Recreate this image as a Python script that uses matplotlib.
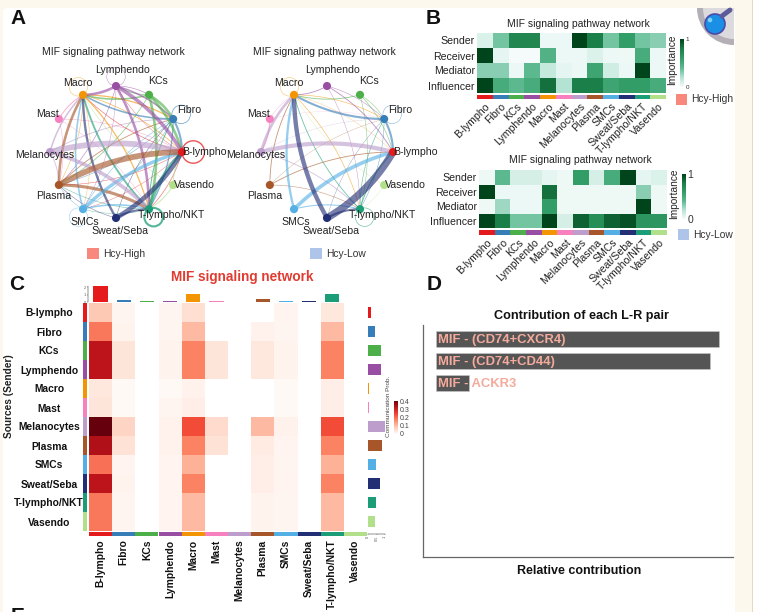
import numpy as np
import matplotlib
matplotlib.use("Agg")
import matplotlib.pyplot as plt
from matplotlib.patches import FancyBboxPatch, Rectangle, Circle, Wedge
from matplotlib.colors import LinearSegmentedColormap

W, H = 757, 612
plt.rcParams['font.family'] = ['Liberation Sans', 'DejaVu Sans']

# ---------- data ----------
cells = ['B-lympho', 'Fibro', 'KCs', 'Lymphendo', 'Macro', 'Mast', 'Melanocytes',
         'Plasma', 'SMCs', 'Sweat/Seba', 'T-lympho/NKT', 'Vasendo']
cell_colors = ['#E41A1C', '#377EB8', '#4DAF4A', '#984EA3', '#F29403', '#F781BF',
               '#BC9DCC', '#A65628', '#54B0E4', '#222F75', '#1B9E77', '#B2DF8A']
roles = ['Sender', 'Receiver', 'Mediator', 'Influencer']

role_high = [[.08, .35, .75, .75, .03, .03, 1.0, .80, .35, .60, .35, .30],
             [1.0, .05, .00, .00, .45, .03, .03, .08, .03, .02, .50, .03],
             [.30, .30, .03, .40, .15, .05, .03, .55, .12, .03, 1.0, .03],
             [1.0, .50, .40, .50, .85, .20, .80, .80, .55, .60, .60, .50]]
role_low = [[.02, .40, .10, .10, .05, .02, .60, .10, .50, 1.0, .05, .08],
            [1.0, .03, .03, .03, .85, .02, .02, .02, .02, .02, .30, .02],
            [.02, .25, .03, .03, .60, .02, .02, .02, .02, .02, 1.0, .02],
            [1.0, .80, .35, .35, 1.0, .10, .90, .70, .90, .95, .65, .65]]

comm_prob = [[.08, .008, 0, .008, .045, 0, 0, 0, .010, 0, .030, 0],
             [.18, .012, 0, .008, .100, 0, 0, .015, .008, 0, .100, 0],
             [.32, .035, 0, .012, .170, .035, 0, .030, .012, 0, .170, 0],
             [.32, .035, 0, .012, .170, .035, 0, .030, .012, 0, .170, 0],
             [.03, .005, 0, .005, .015, 0, 0, 0, .005, 0, .020, 0],
             [.035, .005, 0, .008, .020, 0, 0, 0, .005, 0, .020, 0],
             [.40, .060, 0, .015, .230, .050, 0, .100, .015, 0, .230, 0],
             [.33, .040, 0, .015, .170, .040, 0, .025, .010, 0, .170, 0],
             [.19, .010, 0, .010, .110, 0, 0, .020, .008, 0, .110, 0],
             [.32, .012, 0, .010, .170, 0, 0, .020, .010, 0, .170, 0],
             [.18, .008, 0, .010, .100, 0, 0, .012, .008, 0, .100, 0],
             [.18, .008, 0, .010, .100, 0, 0, .012, .008, 0, .100, 0]]
incoming = [2.2, .25, .10, .15, 1.15, .20, .05, .35, .12, .10, 1.10, .05]
outgoing = [.20, .42, .75, .75, .08, .06, 1.0, .80, .47, .70, .45, .42]

lr_pairs = ['MIF - (CD74+CXCR4)', 'MIF - (CD74+CD44)', 'MIF - ACKR3']
lr_values = [.460, .445, .054]

# network edges: sender index, receiver index, weight
src_high = [6, 7, 9, 8, 10, 3, 1, 2, 4, 11, 7, 9, 10, 8, 6, 3, 5, 1, 2,
            6, 7, 3, 2, 9, 8, 1, 4, 11, 2, 3, 4, 6, 7, 9, 8, 10,
            0, 0, 0, 4, 3, 6, 2, 5, 8, 10, 1, 9, 3, 4, 5, 11, 3, 2, 10, 0, 1, 5, 0]
tgt_high = [0, 0, 0, 0, 0, 0, 0, 0, 0, 0, 4, 4, 4, 4, 4, 4, 4, 4, 4,
            10, 10, 10, 10, 10, 10, 10, 10, 10, 1, 1, 1, 1, 1, 1, 1, 1,
            4, 10, 7, 7, 7, 7, 7, 7, 7, 7, 7, 7, 8, 8, 0, 4, 2, 3, 8, 8, 8, 10, 3]
wt_high = [5.5, 5.5, 4.5, 3.2, 3, 3.5, 2, 2.5, .7, 1, 2.5, 2.2, 1.8, 1.5, 1.5, 2.5, 1, 1.5, 1.5,
           3.5, 3, 2.5, 2.5, 2, 1.5, 1.2, 1.2, 1, 2.5, 1.5, 1.2, .8, .8, .5, .6, 1,
           .6, .6, .5, .5, .6, .8, .7, .5, .5, .5, .5, .5, .4, .4, .5, .5, .6, .8, .4, .4, .4, .4, .4]
src_low = [6, 9, 8, 7, 1, 10, 3, 2, 9, 8, 6, 7, 3, 5, 1, 2, 10, 6, 9, 8, 7, 4, 1, 11, 2,
           3, 2, 4, 6, 7, 5, 9, 4, 10, 3, 11, 5]
tgt_low = [0, 0, 0, 0, 0, 0, 0, 0, 4, 4, 4, 4, 4, 4, 4, 4, 1, 10, 10, 10, 10, 10, 10, 10, 10,
           1, 1, 1, 1, 1, 1, 1, 0, 4, 10, 4, 6]
wt_low = [4, 7, 3.5, .8, 2, 1, .8, .6, 4.2, 2.2, 2.5, .8, .8, .4, 2, .8, .6, .8, 2, 1, .5, .6, .5, .3, .5,
          .5, .5, .6, .3, .3, .2, .3, .3, .8, .4, .3, 1.2]
loops_high_idx, loops_high_wt = [0, 10, 3, 4, 1, 8], [1, 1.5, .3, .3, .5, .3]
loops_low_idx, loops_low_wt = [10, 1, 4], [.4, .3, .3]

# ---------- helpers ----------
fig = plt.figure(figsize=(W / 100, H / 100), dpi=100, facecolor='white')


def px_axes(x0, y0, x1, y1, **kw):
    return fig.add_axes([x0 / W, 1 - y1 / H, (x1 - x0) / W, (y1 - y0) / H], **kw)


bg = px_axes(0, 0, W, H, zorder=-5)
bg.set_xlim(0, W)
bg.set_ylim(H, 0)
bg.axis('off')
cream = '#fdf8ee'
bg.add_patch(Rectangle((0, 0), 752, H, fc=cream, ec='none'))
bg.add_patch(Rectangle((752, 0), 1, H, fc='#e8d6c6', ec='none'))
bg.add_patch(FancyBboxPatch((8, 13), 722, H, boxstyle='round,pad=5,rounding_size=5',
                            fc='white', ec='none'))

# icon
bg.add_patch(Wedge((734, 8), 37, 90, 180, fc='#b4afb6', ec='none'))
bg.add_patch(Wedge((734, 8), 31, 90, 180, fc='#dcdadd', ec='none'))
bg.plot([722, 730], [16, 10], color='#5c5a9a', lw=3.5, solid_capstyle='round')
bg.add_patch(Circle((715, 24), 10, fc='#1a8fe6', ec='#4b4aa8', lw=1.2))
bg.add_patch(Circle((710, 20), 2.3, fc='#7fd0f5', ec='none'))

# panel letters
for let, x, y in [('A', 18, 19), ('B', 433, 19), ('C', 17, 284), ('D', 434, 284), ('E', 18, 617)]:
    bg.text(x, y, let, fontsize=15, fontweight='bold', ha='center', va='center', color='#111111')

# ---------- A: networks ----------
label_offsets = [(22, 0), (16, -9), (9, -14), (6, -16), (-5, -12), (-11, -5),
                 (-5, 3), (-5, 11), (2, 13), (4, 13), (22, 6), (21, 0)]
R_PX = 66.0
BEND = np.linspace(0, 1, 40)


def network(cx, cy, src, tgt, wt, loop_idx, loop_wt):
    half = 112
    ax = px_axes(cx - half, cy - half, cx + half, cy + half, zorder=1)
    lim = half / R_PX
    ax.set_xlim(-lim, lim)
    ax.set_ylim(-lim, lim)
    ax.axis('off')
    ang = np.deg2rad(np.arange(len(cells)) * 30.0)
    xs, ys = np.cos(ang), np.sin(ang)
    for k in np.argsort(wt):
        s, t, w = src[k], tgt[k], wt[k]
        rad = 0.13 if (s, t) == (9, 0) else -0.13
        mx, my = (xs[s] + xs[t]) / 2, (ys[s] + ys[t]) / 2
        dx, dy = xs[t] - xs[s], ys[t] - ys[s]
        qx, qy = mx + rad * dy, my - rad * dx
        px = (1 - BEND) ** 2 * xs[s] + 2 * BEND * (1 - BEND) * qx + BEND ** 2 * xs[t]
        py = (1 - BEND) ** 2 * ys[s] + 2 * BEND * (1 - BEND) * qy + BEND ** 2 * ys[t]
        ax.plot(px, py, lw=w * 0.75, color=cell_colors[s], alpha=.62, zorder=2,
                solid_capstyle='butt')
    for i, w in zip(loop_idx, loop_wt):
        r = .14 if i != 0 else .17
        ax.add_patch(Circle((xs[i] * (1 + r), ys[i] * (1 + r)), r, fc='none',
                            ec=cell_colors[i], lw=w, alpha=.75, zorder=2))
    ax.scatter(xs, ys, s=34, c=cell_colors, zorder=4, lw=0)
    for i, name in enumerate(cells):
        ax.annotate(name, (xs[i], ys[i]), xytext=(label_offsets[i][0], -label_offsets[i][1]),
                    textcoords='offset pixels', ha='center', va='center', fontsize=7.6,
                    color='#222222', zorder=5)
    bg.text(cx - 3, 52, 'MIF signaling pathway network', fontsize=7.45, ha='center',
            va='center', color='#222222')


network(116, 152, src_high, tgt_high, wt_high, loops_high_idx, loops_high_wt)
network(327, 152, src_low, tgt_low, wt_low, loops_low_idx, loops_low_wt)
bg.add_patch(Rectangle((87, 248), 12, 11, fc='#f8877c', ec='none'))
bg.text(103, 254, 'Hcy-High', fontsize=7.4, va='center', color='#333333')
bg.add_patch(Rectangle((310, 248), 12, 11, fc='#aec4e8', ec='none'))
bg.text(326, 254, 'Hcy-Low', fontsize=7.4, va='center', color='#333333')

# ---------- B: role heatmaps ----------
greens = LinearSegmentedColormap.from_list(
    'imp', ['#f4fbfa', '#b5e3d3', '#5cb98f', '#339d68', '#1b7f49', '#00441b'])
reds = LinearSegmentedColormap.from_list(
    'comm', [(0, '#ffffff'), (.02, '#fff5f0'), (.2, '#fdc9b4'), (.4, '#fc8a6a'),
             (.6, '#f14432'), (.8, '#bc141a'), (1, '#67000d')])


def role_map(rect, strip_y, cb, title_xy, data, legend_xy, legend_col, legend_text, cb_font):
    x0, y0, x1, y1 = rect
    ax = px_axes(x0, y0, x1, y1)
    ax.pcolormesh(np.array(data), cmap=greens, vmin=0, vmax=1)
    ax.invert_yaxis()
    ax.set_xticks([])
    ax.set_yticks(np.arange(4) + .5, roles, fontsize=7.6, color='#222222')
    ax.tick_params(axis='y', length=0, pad=1.5)
    for sp in ax.spines.values():
        sp.set_visible(False)
    st = px_axes(x0, strip_y[0], x1, strip_y[1])
    st.bar(np.arange(12) + .5, 1, width=1, color=cell_colors)
    st.set_xlim(0, 12)
    st.set_ylim(0, 1)
    st.set_yticks([])
    st.set_xticks(np.arange(12) + .5, cells, rotation=45, ha='right', rotation_mode='anchor',
                  fontsize=7.6, color='#222222')
    st.tick_params(axis='x', length=0, pad=1.5)
    for sp in st.spines.values():
        sp.set_visible(False)
    cax = px_axes(*cb)
    cax.imshow(np.linspace(1, 0, 100)[:, None], aspect='auto', cmap=greens, vmin=0, vmax=1,
               extent=[0, 1, 0, 1])
    cax.set_xticks([])
    cax.yaxis.tick_right()
    cax.set_yticks([0, 1], ['0', '1'], fontsize=cb_font, color='#333333')
    cax.tick_params(axis='y', length=0, pad=1)
    for sp in cax.spines.values():
        sp.set_visible(False)
    bg.text((cb[0]) - 8, (cb[1] + cb[3]) / 2 - 3, 'Importance', rotation=90, fontsize=7.3,
            ha='center', va='center', color='#222222')
    bg.text(title_xy[0], title_xy[1], 'MIF signaling pathway network', fontsize=7.45,
            ha='center', va='center', color='#222222')
    bg.add_patch(Rectangle((legend_xy[0], legend_xy[1]), 11, 11, fc=legend_col, ec='none'))
    bg.text(legend_xy[0] + 15, legend_xy[1] + 5.5, legend_text, fontsize=7.4, va='center',
            color='#333333')


role_map((477, 33, 666, 93), (95, 99), (680, 39, 684, 87), (578, 24), role_high,
         (676, 94), '#f8877c', 'Hcy-High', 4.5)
role_map((479, 170, 667, 228), (230, 235), (682, 174, 686, 219), (580, 160), role_low,
         (678, 229), '#aec4e8', 'Hcy-Low', 7.5)

# ---------- C: communication heatmap ----------
hx0, hy0, hx1, hy1 = 89, 303, 367, 531
ax = px_axes(hx0, hy0, hx1, hy1)
ax.pcolormesh(np.array(comm_prob), cmap=reds, vmin=0, vmax=.4)
ax.invert_yaxis()
ax.set_xticks([])
ax.set_yticks(np.arange(12) + .5, cells, fontsize=7.4, fontweight='bold', ha='center', color='#111111')
ax.tick_params(axis='y', length=0, pad=28.8)
for sp in ax.spines.values():
    sp.set_visible(False)
bg.text(9, 396, 'Sources (Sender)', rotation=90, fontsize=7.3, fontweight='bold', ha='center',
        va='center', color='#222222')
bg.text(242, 277, 'MIF signaling network', fontsize=9.8, fontweight='bold', ha='center',
        va='center', color='#e03c31')

left = px_axes(83, hy0, 87, hy1)
left.bar(.5, 1, bottom=np.arange(12), width=1, color=cell_colors)
left.set_ylim(12, 0)
left.set_xlim(0, 1)
left.axis('off')

bot = px_axes(hx0, 532, hx1 + 0, 536)
bot.bar(np.arange(12) + .5, 1, width=1, color=cell_colors)
bot.set_xlim(0, 12)
bot.set_ylim(0, 1)
bot.set_yticks([])
bot.set_xticks(np.arange(12) + .5, cells, rotation=90, ha='center', va='top', fontsize=7.4,
               fontweight='bold', color='#111111')
bot.tick_params(axis='x', length=0, pad=2.5)
for sp in bot.spines.values():
    sp.set_visible(False)

top = px_axes(hx0, 286, hx1, 302)
for k in ['top', 'right', 'bottom']:
    top.spines[k].set_visible(False)
top.spines['left'].set_linewidth(.3)
top.spines['left'].set_position(('outward', 1))
top.bar(np.arange(12) + .5, incoming, width=.62, color=cell_colors)
top.set_xlim(0, 12)
top.set_ylim(0, 2.2)
top.set_xticks([])
top.set_yticks([0, 1, 2], ['0', '1', '2'], fontsize=2.8, color='#555555')
top.tick_params(axis='y', length=1, width=.3, pad=.5, color='#555555')

right = px_axes(368, hy0, 385, hy1)
for k in ['top', 'right', 'left']:
    right.spines[k].set_visible(False)
right.spines['bottom'].set_linewidth(.3)
right.spines['bottom'].set_position(('outward', 2))
right.barh(np.arange(12) + .5, outgoing, height=.62, color=cell_colors)
right.set_ylim(12, 0)
right.set_xlim(0, 1.0)
right.set_yticks([])
right.set_xticks([0, .5, 1], ['0', '0.5', '1'], fontsize=2.8, rotation=90, color='#555555')
right.tick_params(axis='x', length=1, width=.3, pad=.5, color='#555555')

cbar = px_axes(394, 401, 398, 434)
cbar.imshow(np.linspace(.4, 0, 100)[:, None], aspect='auto', cmap=reds, vmin=0, vmax=.4,
            extent=[0, 1, 0, .4])
cbar.set_xticks([])
cbar.yaxis.tick_right()
cbar.set_yticks([0, .1, .2, .3, .4], ['0', '0.1', '0.2', '0.3', '0.4'], fontsize=5, color='#444444')
cbar.tick_params(axis='y', length=0, pad=1)
for sp in cbar.spines.values():
    sp.set_visible(False)
bg.text(389, 406, 'Communication Prob.', rotation=90, fontsize=4.6, ha='center', va='center',
        color='#444444')

# ---------- D: L-R contribution ----------
dax = px_axes(423, 325, 733, 557)
ypos = np.arange(len(lr_pairs))
dax.barh(ypos, lr_values, height=.72, color='#555555', edgecolor='#c9c9c9', linewidth=.4)
dax.set_ylim(9.85, -.64)
dax.set_xlim(-.0211, .4828)
dax.set_xticks([])
dax.set_yticks([])
for k in ['top', 'right']:
    dax.spines[k].set_visible(False)
for k in ['left', 'bottom']:
    dax.spines[k].set_color('#666666')
    dax.spines[k].set_linewidth(.9)
for y, name in zip(ypos, lr_pairs):
    dax.text(.003, y + .02, name, fontsize=9.4, fontweight='bold', va='center', ha='left',
             color='#f4ab9c')
bg.text(582, 316, 'Contribution of each L-R pair', fontsize=9.1, fontweight='bold', ha='center',
        va='center', color='#111111')
bg.text(579, 571, 'Relative contribution', fontsize=9, fontweight='bold', ha='center',
        va='center', color='#111111')

fig.savefig('out.png', dpi=100)
